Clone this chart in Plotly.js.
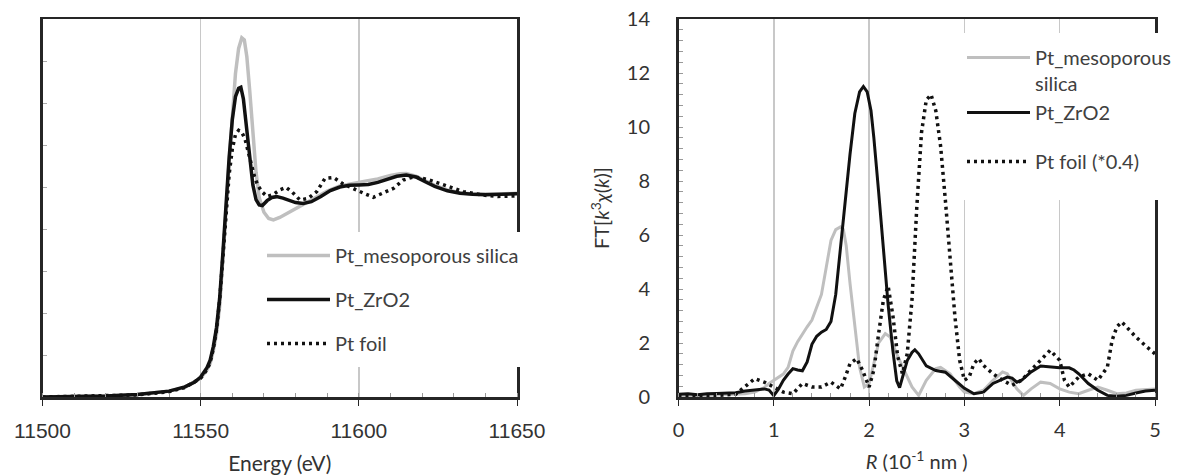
<!DOCTYPE html>
<html>
<head>
<meta charset="utf-8">
<script src="https://cdn.plot.ly/plotly-3.0.1.min.js"></script>
<style>html,body{margin:0;padding:0;background:#fff}#chart{width:1192px;height:476px}</style>
</head>
<body>
<div id="chart"></div>
<script>
// ---------- XANES (left) ----------
const xanesE_silica = [11500,11520,11530,11540,11545,11550,11552,11553,11554,11555,11556,11557,11558,11559,11560,11561,11562,11563,11563.8,11564.6,11565.5,11566.5,11567.5,11568.5,11570,11571.5,11573,11575,11578,11581,11584,11587,11590,11594,11598,11602,11606,11610,11613,11615,11618,11621,11624,11628,11632,11636,11640,11645,11650];
const xanesV_silica = [0,0.005,0.012,0.028,0.046,0.09,0.13,0.16,0.22,0.30,0.43,0.64,0.88,1.12,1.35,1.54,1.66,1.71,1.70,1.62,1.46,1.25,1.07,0.95,0.88,0.85,0.843,0.855,0.88,0.905,0.93,0.955,0.98,1.005,1.018,1.028,1.038,1.055,1.063,1.064,1.052,1.03,1.008,0.986,0.973,0.967,0.966,0.967,0.97];

const xanesE_zro2 = [11500,11510,11520,11530,11535,11540,11545,11548,11550,11552,11553,11554,11555,11556,11557,11558,11559,11560,11561,11562,11562.7,11563.5,11564.5,11565.5,11566.5,11567.5,11568.5,11569.5,11571,11572.5,11574,11576,11578,11580,11582.4,11585,11588,11591,11594,11597,11600,11603,11606,11609,11612,11615,11618,11621,11624,11628,11632,11636,11640,11645,11650];
const xanesV_zro2 = [0,0.002,0.005,0.012,0.018,0.028,0.048,0.07,0.095,0.14,0.175,0.24,0.33,0.47,0.68,0.92,1.14,1.32,1.43,1.47,1.475,1.42,1.29,1.13,1.01,0.94,0.915,0.912,0.935,0.95,0.954,0.947,0.935,0.926,0.922,0.93,0.955,0.983,1.0,1.008,1.01,1.012,1.022,1.037,1.051,1.057,1.048,1.025,1.003,0.982,0.97,0.965,0.963,0.965,0.968];

const xanesE_foil = [11500,11520,11530,11540,11545,11550,11552,11553,11554,11555,11556,11557,11558,11559,11560,11561,11562,11563,11564,11565,11566,11567,11568,11569.3,11571,11573,11575,11577,11579,11581.4,11584,11586.7,11589.3,11592,11595,11599,11602,11604.6,11607.7,11611,11614,11617.5,11622,11628,11633,11639,11644,11650];
const xanesV_foil = [0,0.004,0.01,0.025,0.045,0.09,0.13,0.165,0.23,0.32,0.46,0.66,0.88,1.06,1.18,1.25,1.27,1.26,1.23,1.17,1.10,1.05,1.01,0.978,0.955,0.965,0.986,0.998,0.975,0.938,0.946,0.978,1.041,1.045,1.015,0.986,0.967,0.951,0.97,0.994,1.033,1.049,1.035,1.002,0.978,0.962,0.955,0.958];

// ---------- EXAFS FT (right) ----------
const ftR_silica = [0,0.2,0.4,0.6,0.7,0.8,0.9,0.95,1.0,1.05,1.1,1.15,1.2,1.25,1.3,1.35,1.4,1.45,1.5,1.55,1.6,1.65,1.7,1.73,1.76,1.8,1.85,1.9,1.95,2.0,2.05,2.1,2.17,2.22,2.3,2.4,2.45,2.52,2.6,2.7,2.75,2.85,2.95,3.0,3.1,3.2,3.3,3.4,3.45,3.55,3.62,3.7,3.8,3.9,4.0,4.1,4.2,4.3,4.4,4.5,4.6,4.7,4.8,5.0];
const ftV_silica = [0.05,0.04,0.07,0.1,0.12,0.18,0.35,0.5,0.62,0.72,0.85,1.1,1.7,2.05,2.35,2.6,2.85,3.3,3.8,4.8,5.8,6.2,6.3,6.2,5.6,4.2,2.6,1.1,0.37,0.5,1.24,2.0,2.35,2.22,1.5,0.74,0.37,0.06,0.62,1.05,1.1,0.86,0.37,0.18,0.12,0.25,0.62,0.93,0.86,0.3,0.06,0.3,0.55,0.5,0.3,0.18,0.12,0.25,0.37,0.25,0.12,0.15,0.25,0.3];

const ftR_zro2 = [0,0.1,0.2,0.3,0.4,0.5,0.6,0.7,0.8,0.9,0.95,1.0,1.05,1.1,1.15,1.2,1.25,1.3,1.35,1.4,1.45,1.5,1.55,1.6,1.65,1.7,1.75,1.8,1.85,1.9,1.94,1.98,2.02,2.05,2.1,2.15,2.2,2.25,2.29,2.32,2.35,2.4,2.45,2.48,2.52,2.56,2.6,2.7,2.8,2.9,3.0,3.1,3.2,3.3,3.4,3.45,3.5,3.55,3.6,3.7,3.8,3.9,4.0,4.1,4.15,4.2,4.3,4.4,4.5,4.6,4.7,4.8,4.9,5.0];
const ftV_zro2 = [0.1,0.12,0.08,0.12,0.13,0.14,0.16,0.22,0.27,0.3,0.26,0.05,0.3,0.62,0.85,1.05,1.0,0.97,1.3,1.95,2.25,2.4,2.5,2.8,3.8,5.6,7.3,9.0,10.5,11.3,11.5,11.3,10.6,9.6,7.6,5.4,3.4,1.7,0.6,0.35,0.7,1.35,1.65,1.75,1.6,1.35,1.15,0.98,0.92,0.62,0.32,0.12,0.18,0.5,0.68,0.74,0.7,0.55,0.62,0.93,1.15,1.12,1.08,1.08,1.0,0.86,0.5,0.25,0.06,0.03,0.06,0.15,0.22,0.25];

const ftR_foil = [0,0.2,0.4,0.6,0.7,0.8,0.9,1.0,1.1,1.2,1.3,1.4,1.5,1.6,1.7,1.75,1.8,1.87,1.93,2.0,2.05,2.1,2.15,2.2,2.25,2.3,2.35,2.4,2.45,2.5,2.55,2.6,2.65,2.7,2.75,2.8,2.85,2.9,2.95,3.0,3.05,3.1,3.15,3.2,3.3,3.4,3.5,3.6,3.7,3.8,3.9,4.0,4.05,4.1,4.2,4.3,4.4,4.5,4.55,4.6,4.65,4.7,4.8,4.9,5.0];
const ftV_foil = [0.05,0.05,0.06,0.1,0.37,0.68,0.55,0.37,0.18,0.12,0.5,0.37,0.37,0.55,0.3,0.74,1.24,1.42,1.0,0.37,1.0,2.35,3.6,4.1,3.0,1.5,0.86,1.6,3.6,7.0,9.8,11.0,11.2,10.6,9.3,7.3,5.1,3.0,1.36,0.62,0.74,1.24,1.42,1.17,0.86,0.62,0.43,0.62,1.0,1.36,1.73,1.36,0.62,0.37,0.74,0.86,0.62,1.1,2.1,2.6,2.78,2.6,2.22,1.9,1.6];

const names_left = ['Pt_mesoporous silica','Pt_ZrO2','Pt foil'];
const names_right = ['Pt_mesoporous<br>silica','Pt_ZrO2','Pt foil (*0.4)'];

const GRAY = '#bfbfbf', BLACK = '#111111', TXT = '#333333';
const DOT = '3px,4px';
const legendFont = {family:'Lato', size:20, color:'#404040'};

const traces = [
  {x:xanesE_silica, y:xanesV_silica, name:names_left[0], xaxis:'x', yaxis:'y', mode:'lines', line:{color:GRAY,width:3.5}, legend:'legend', legendgroup:'a'},
  {x:xanesE_zro2, y:xanesV_zro2, name:names_left[1], xaxis:'x', yaxis:'y', mode:'lines', line:{color:BLACK,width:3.5}, legend:'legend', legendgroup:'b'},
  {x:xanesE_foil, y:xanesV_foil, name:names_left[2], xaxis:'x', yaxis:'y', mode:'lines', line:{color:BLACK,width:3.5,dash:DOT}, legend:'legend', legendgroup:'c'},
  {x:ftR_silica, y:ftV_silica, name:names_right[0], xaxis:'x2', yaxis:'y2', mode:'lines', line:{color:GRAY,width:3}, legend:'legend2', legendgroup:'d'},
  {x:ftR_zro2, y:ftV_zro2, name:names_right[1], xaxis:'x2', yaxis:'y2', mode:'lines', line:{color:BLACK,width:3}, legend:'legend2', legendgroup:'e'},
  {x:ftR_foil, y:ftV_foil, name:names_right[2], xaxis:'x2', yaxis:'y2', mode:'lines', line:{color:BLACK,width:3.5,dash:DOT}, legend:'legend3', legendgroup:'f'}
];

const W = 1192, H = 476;
const px = v => v / W, py = v => 1 - v / H;
const ydom = [py(397), py(19)];

const axisLine = {showline:true, mirror:true, linecolor:'#262626', linewidth:2.5, zeroline:false};

const layout = {
  width:W, height:H,
  margin:{l:0,r:0,t:0,b:0},
  paper_bgcolor:'#ffffff', plot_bgcolor:'#ffffff',
  showlegend:true,
  xaxis: Object.assign({}, axisLine, {
    domain:[px(42.5), px(517)], range:[11500,11650], tick0:11500, dtick:50, tickformat:'d',
    ticks:'outside', ticklen:6, tickwidth:1, tickcolor:'#262626',
    showgrid:true, gridcolor:'#c8c8c8', gridwidth:1.5,
    minor:{dtick:10, ticks:'inside', ticklen:4, tickcolor:'#999999', showgrid:false},
    tickfont:{family:'Liberation Sans', size:21, color:TXT}, ticklabelstandoff:7,
    title:{text:'Energy (eV)', font:{family:'Lato', size:21, color:TXT}, standoff:16},
    anchor:'y', automargin:false
  }),
  yaxis: Object.assign({}, axisLine, {
    domain:ydom, range:[0,1.8], dtick:0.2, ticks:'inside', ticklen:4, tickcolor:'#aaaaaa',
    showticklabels:false, showgrid:false, anchor:'x', automargin:false
  }),
  xaxis2: Object.assign({}, axisLine, {
    domain:[px(678.5), px(1155)], range:[0,5], dtick:1,
    ticks:'outside', ticklen:6, tickwidth:1, tickcolor:'#262626',
    showgrid:true, gridcolor:'#c8c8c8', gridwidth:1.5,
    minor:{dtick:0.2, ticks:'inside', ticklen:4, tickcolor:'#999999', showgrid:false},
    tickfont:{family:'Lato', size:20, color:TXT}, ticklabelstandoff:7,
    title:{text:'<i>R</i> (10<sup>-1</sup> nm )', font:{family:'Lato', size:20, color:TXT}, standoff:16},
    anchor:'y2', automargin:false
  }),
  yaxis2: Object.assign({}, axisLine, {
    domain:ydom, range:[0,14], dtick:2, ticks:'inside', ticklen:4, tickcolor:'#999999',
    minor:{dtick:0.4, ticks:'inside', ticklen:4, tickcolor:'#999999', showgrid:false},
    showgrid:false, tickfont:{family:'Lato', size:20, color:TXT}, ticklabelstandoff:22,
    title:{text:'FT[<i>k</i><sup>3</sup><i>χ</i>(<i>k</i>)]', font:{family:'Lato', size:20, color:TXT}, standoff:12},
    anchor:'x2', automargin:false
  }),
  legend:{x:px(262), y:py(236), xanchor:'left', yanchor:'top', bgcolor:'rgba(0,0,0,0)', borderwidth:0,
    font:legendFont, itemwidth:63, traceorder:'grouped', tracegroupgap:15, itemclick:false},
  legend2:{x:px(962), y:py(38), xanchor:'left', yanchor:'top', bgcolor:'rgba(0,0,0,0)', borderwidth:0,
    font:legendFont, itemwidth:63, traceorder:'grouped', tracegroupgap:0, valign:'top', itemclick:false},
  legend3:{x:px(962), y:py(142), xanchor:'left', yanchor:'top', bgcolor:'rgba(0,0,0,0)', borderwidth:0,
    font:legendFont, itemwidth:63, itemclick:false},
  shapes:[
    {type:'rect', xref:'paper', yref:'paper', x0:px(262), x1:px(560), y0:py(367), y1:py(232), fillcolor:'#ffffff', line:{width:0}, layer:'above'},
    {type:'rect', xref:'paper', yref:'paper', x0:px(958), x1:px(1192), y0:py(200), y1:py(33), fillcolor:'#ffffff', line:{width:0}, layer:'above'}
  ]
};

Plotly.newPlot('chart', traces, layout, {staticPlot:true, displayModeBar:false}).then(function(gd){
  gd.querySelectorAll('.legend .legendlines path').forEach(function(p){
    p.setAttribute('d','M5,0h63');
  });
});
</script>
</body>
</html>
